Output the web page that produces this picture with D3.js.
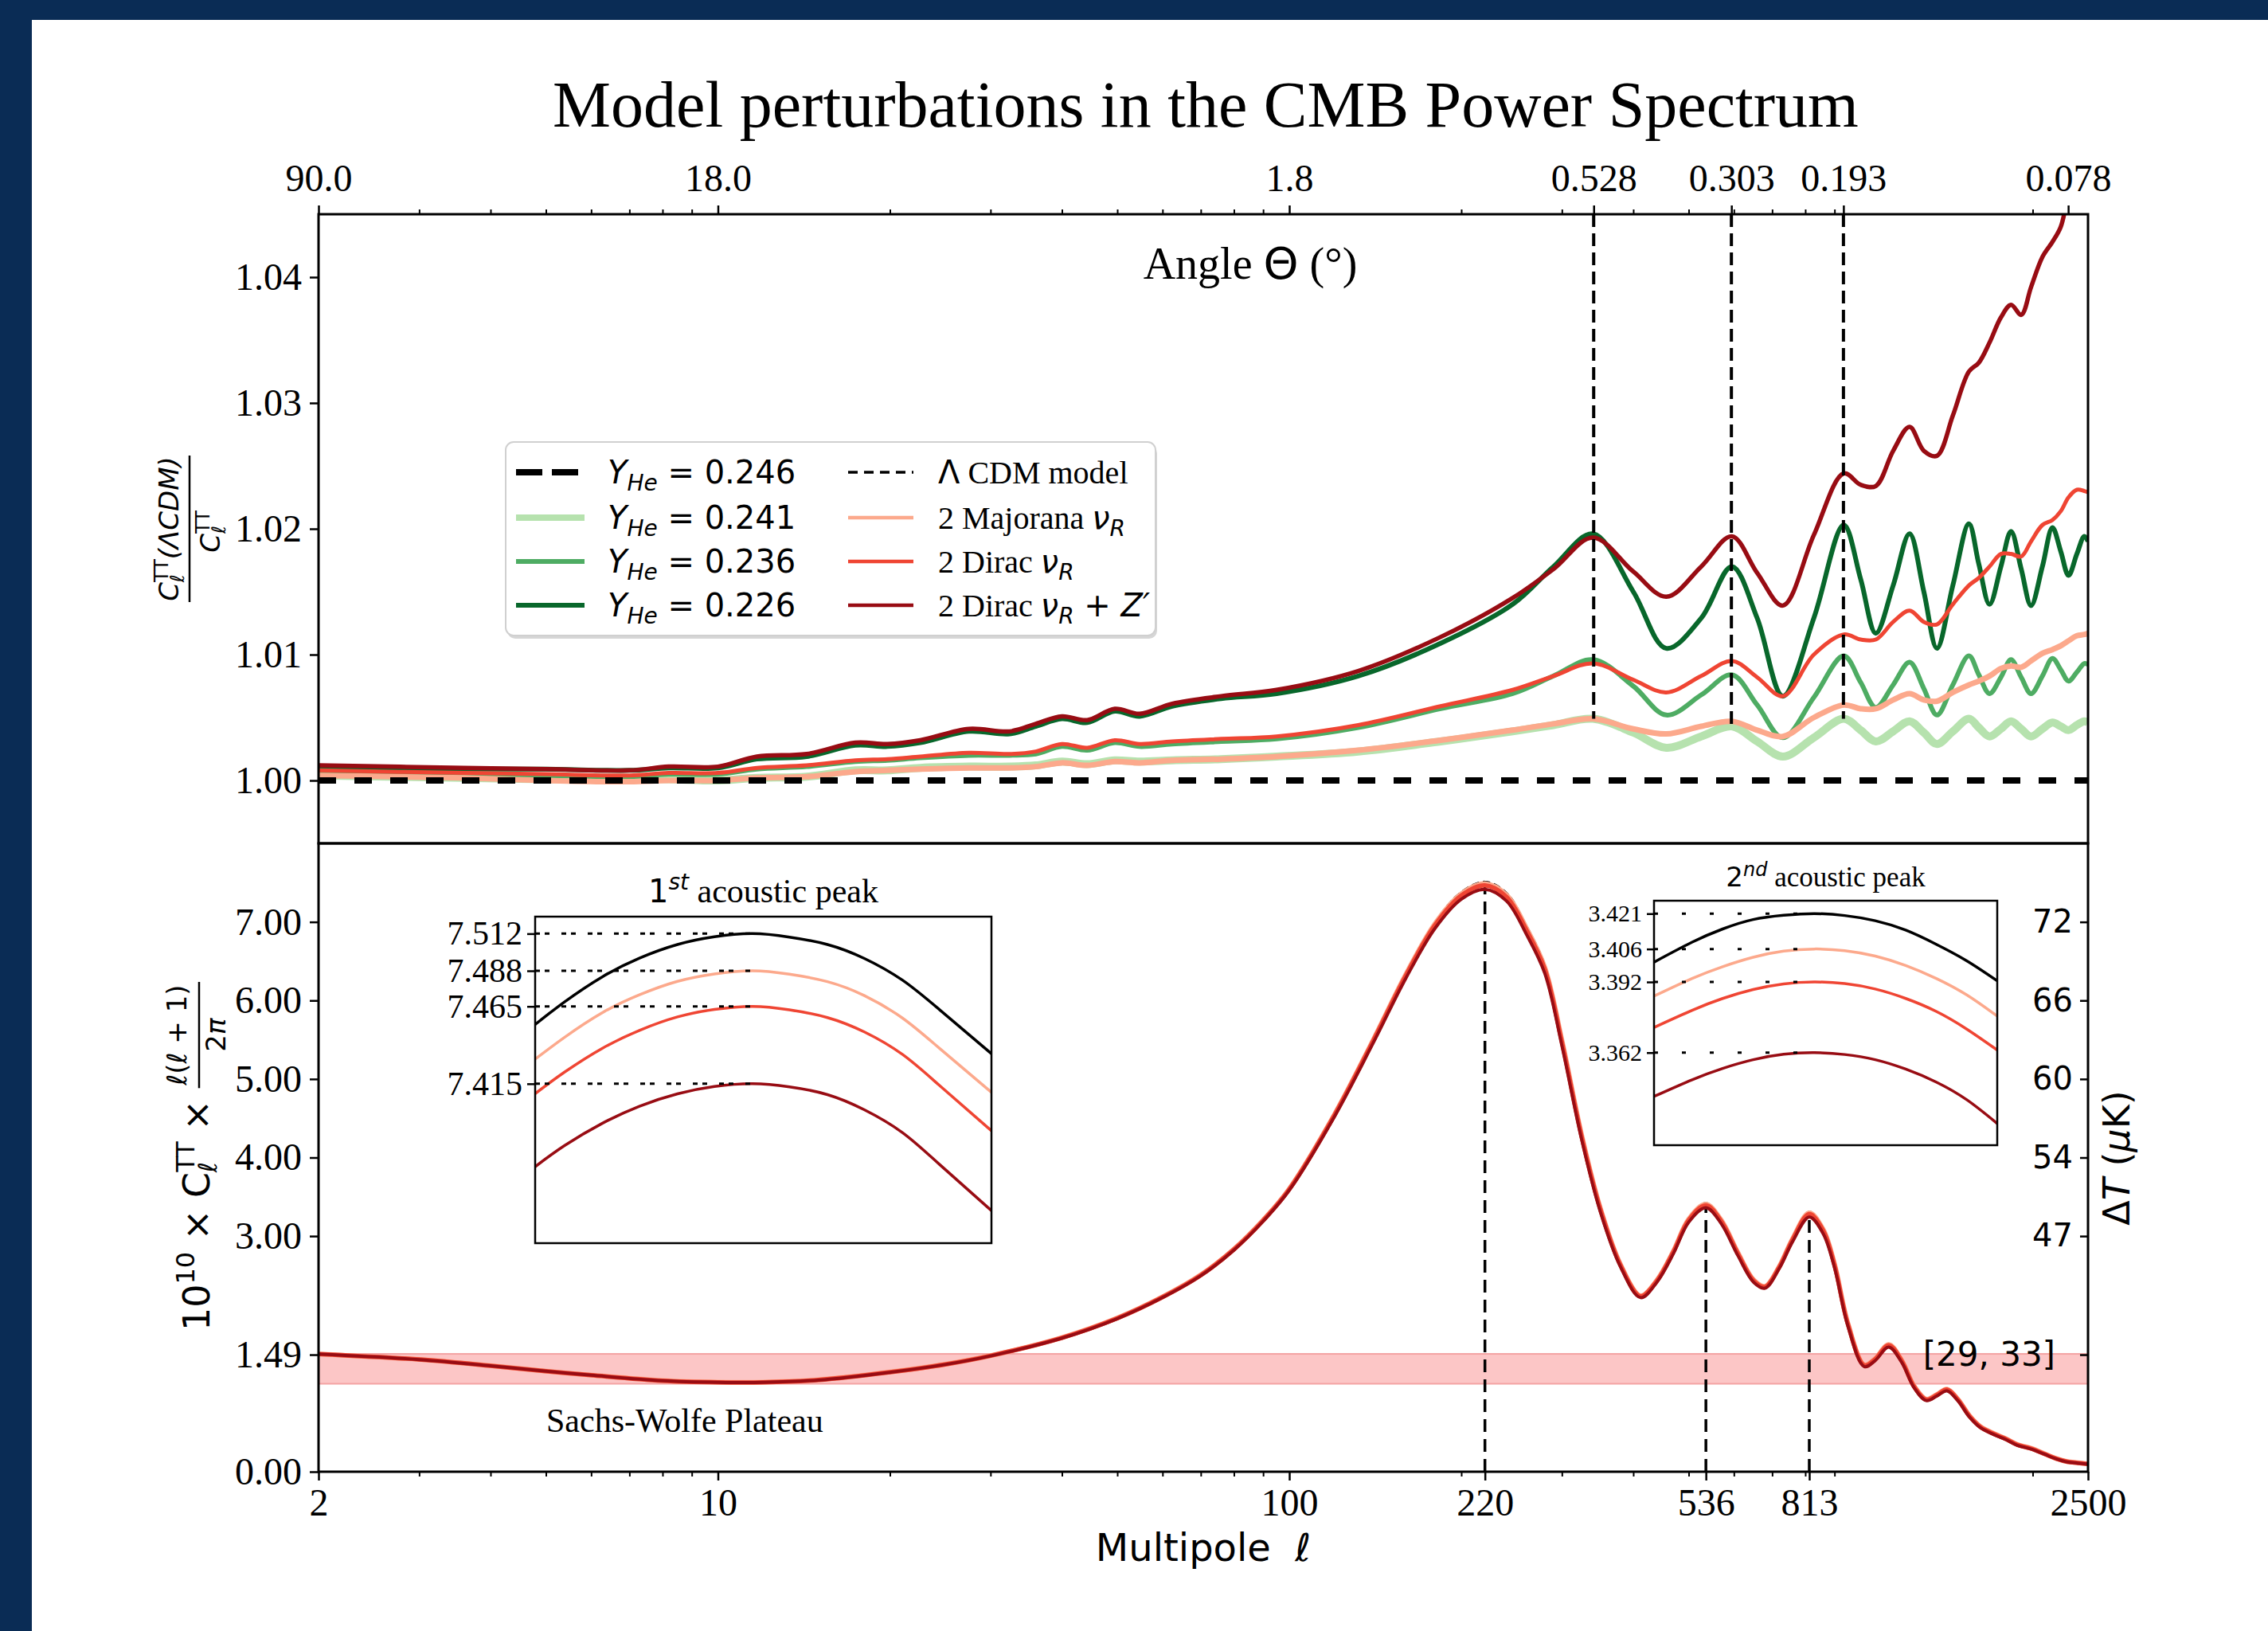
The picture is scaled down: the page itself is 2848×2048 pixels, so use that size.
<!DOCTYPE html>
<html lang="en">
<head><meta charset="utf-8">
<title>Model perturbations in the CMB Power Spectrum</title>
<style>
body { margin: 0; background: #0a2c55; }
svg { display: block; }
text { white-space: pre; }
</style>
</head>
<body>
<svg id="chart"></svg>
<script src="https://cdn.jsdelivr.net/npm/d3@7"></script>
<script>

// ---------- top panel: C_l(LCDM) / C_l(model) ----------
var ellTop = [2, 3.6, 5, 7, 8.2, 10, 11.7, 14.3, 17.4, 19.8, 22.6, 27.5, 32.4, 36, 40, 44.3, 49.5, 54.7, 62.4, 76, 95, 132, 184,
  246, 290, 340, 400, 457, 526, 595, 659, 731, 828, 934, 1000, 1063, 1140, 1218, 1290, 1360, 1450, 1547, 1610, 1681, 1760,
  1833, 1910, 1987, 2080, 2166, 2240, 2311, 2390, 2463, 2500];

var ratioY241 = [1.0004, 1.0002, 1.0001, 1.0001, 1.0001, 1.0000, 1.0002, 1.0003, 1.0008, 1.0008, 1.0010, 1.0011, 1.0011, 1.0012,
  1.0015, 1.0013, 1.0016, 1.0015, 1.0016, 1.0017, 1.0019, 1.0023, 1.0031, 1.0039, 1.0044, 1.0049, 1.0038, 1.0026, 1.0035,
  1.0043, 1.0031, 1.0019, 1.0034, 1.0049, 1.0040, 1.0031, 1.0039, 1.0047, 1.0038, 1.0029, 1.0039, 1.0049, 1.0042, 1.0035,
  1.0041, 1.0047, 1.0041, 1.0035, 1.0041, 1.0046, 1.0043, 1.0040, 1.0044, 1.0047, 1.0046];

var ratioY236 = [1.0007, 1.0005, 1.0004, 1.0003, 1.0005, 1.0005, 1.0009, 1.0011, 1.0015, 1.0016, 1.0018, 1.0020, 1.0020, 1.0021,
  1.0027, 1.0024, 1.0030, 1.0027, 1.0029, 1.0031, 1.0033, 1.0042, 1.0057, 1.0069, 1.0083, 1.0096, 1.0075, 1.0052, 1.0068,
  1.0084, 1.0060, 1.0034, 1.0066, 1.0099, 1.0078, 1.0058, 1.0076, 1.0094, 1.0073, 1.0052, 1.0076, 1.0099, 1.0084, 1.0069,
  1.0082, 1.0096, 1.0082, 1.0069, 1.0083, 1.0097, 1.0088, 1.0079, 1.0086, 1.0093, 1.0092];

var ratioY226 = [1.0011, 1.0009, 1.0009, 1.0008, 1.0010, 1.0010, 1.0017, 1.0019, 1.0028, 1.0027, 1.0030, 1.0039, 1.0037, 1.0043,
  1.0049, 1.0046, 1.0055, 1.0051, 1.0059, 1.0065, 1.0069, 1.0083, 1.0109, 1.0140, 1.0170, 1.0196, 1.0150, 1.0105, 1.0129,
  1.0170, 1.0129, 1.0067, 1.0129, 1.0203, 1.0160, 1.0117, 1.0155, 1.0196, 1.0150, 1.0105, 1.0155, 1.0204, 1.0172, 1.0140,
  1.0170, 1.0198, 1.0168, 1.0139, 1.0170, 1.0201, 1.0182, 1.0163, 1.0180, 1.0194, 1.0190];

var ratioMajorana = [1.0004, 1.0002, 1.0000, 0.9999, 1.0000, 1.0000, 1.0002, 1.0003, 1.0007, 1.0008, 1.0009, 1.0010, 1.0010, 1.0011,
  1.0014, 1.0012, 1.0015, 1.0014, 1.0016, 1.0017, 1.0019, 1.0024, 1.0032, 1.0040, 1.0045, 1.0049, 1.0041, 1.0037, 1.0043,
  1.0047, 1.0040, 1.0035, 1.0050, 1.0060, 1.0057, 1.0057, 1.0064, 1.0069, 1.0064, 1.0063, 1.0070, 1.0076, 1.0079, 1.0083,
  1.0089, 1.0091, 1.0090, 1.0095, 1.0101, 1.0104, 1.0107, 1.0111, 1.0115, 1.0116, 1.0117];

var ratioDirac = [1.0008, 1.0006, 1.0005, 1.0004, 1.0006, 1.0006, 1.0010, 1.0012, 1.0016, 1.0017, 1.0019, 1.0022, 1.0021, 1.0023,
  1.0029, 1.0026, 1.0032, 1.0029, 1.0031, 1.0033, 1.0035, 1.0044, 1.0059, 1.0072, 1.0083, 1.0093, 1.0080, 1.0070, 1.0083,
  1.0095, 1.0082, 1.0067, 1.0100, 1.0116, 1.0112, 1.0112, 1.0126, 1.0135, 1.0126, 1.0124, 1.0140, 1.0155, 1.0161, 1.0170,
  1.0180, 1.0180, 1.0178, 1.0190, 1.0203, 1.0207, 1.0214, 1.0225, 1.0231, 1.0230, 1.0229];

var ratioDiracZ = [1.0012, 1.0010, 1.0009, 1.0008, 1.0011, 1.0011, 1.0019, 1.0021, 1.0030, 1.0029, 1.0032, 1.0041, 1.0039, 1.0045,
  1.0051, 1.0048, 1.0057, 1.0053, 1.0061, 1.0067, 1.0072, 1.0087, 1.0114, 1.0145, 1.0168, 1.0193, 1.0166, 1.0146, 1.0170,
  1.0194, 1.0165, 1.0139, 1.0195, 1.0244, 1.0235, 1.0234, 1.0262, 1.0281, 1.0262, 1.0258, 1.0290, 1.0325, 1.0332, 1.0348,
  1.0368, 1.0378, 1.0370, 1.0392, 1.0416, 1.0428, 1.0440, 1.0468, 1.0500, 1.0530, 1.0550];

// ---------- bottom panel: 1e10 x C_l x l(l+1)/2pi ----------
var ellBot = [2, 3, 4, 5, 6, 8, 10, 12, 15, 20, 25, 30, 40, 50, 60, 70, 80, 90, 100, 120, 140, 160, 180, 200, 220, 240, 260,
  280, 300, 325, 350, 380, 412, 440, 470, 500, 536, 570, 610, 650, 680, 720, 760, 813, 860, 900, 950, 1015, 1060, 1120, 1180,
  1240, 1303, 1360, 1416, 1480, 1550, 1620, 1711, 1800, 1880, 1990, 2100, 2200, 2300, 2400, 2500];

var dlLcdm = [1.50, 1.43, 1.35, 1.28, 1.23, 1.16, 1.14, 1.14, 1.17, 1.27, 1.37, 1.48, 1.71, 1.96, 2.23, 2.51, 2.84, 3.21, 3.61,
  4.56, 5.50, 6.35, 7.00, 7.38, 7.512, 7.37, 6.95, 6.45, 5.52, 4.30, 3.38, 2.65, 2.25, 2.45, 2.82, 3.23, 3.421, 3.22, 2.80,
  2.45, 2.37, 2.62, 2.98, 3.31, 3.10, 2.66, 1.90, 1.37, 1.45, 1.63, 1.43, 1.10, 0.93, 0.99, 1.06, 0.93, 0.72, 0.58, 0.49,
  0.42, 0.35, 0.30, 0.23, 0.17, 0.13, 0.115, 0.10];

var dlMajorana = [1.499, 1.429, 1.35, 1.28, 1.23, 1.16, 1.14, 1.14, 1.17, 1.269, 1.369, 1.478, 1.708, 1.957, 2.226, 2.506,
  2.835, 3.204, 3.603, 4.551, 5.488, 6.335, 6.982, 7.358, 7.488, 7.343, 6.924, 6.424, 5.496, 4.281, 3.364, 2.639, 2.241,
  2.441, 2.808, 3.216, 3.406, 3.206, 2.789, 2.441, 2.361, 2.611, 2.967, 3.295, 3.085, 2.646, 1.889, 1.362, 1.442, 1.620,
  1.421, 1.093, 0.924, 0.984, 1.053, 0.924, 0.715, 0.576, 0.486, 0.417, 0.347, 0.297, 0.228, 0.168, 0.129, 0.114, 0.099];

var dlDirac = [1.499, 1.429, 1.349, 1.279, 1.229, 1.159, 1.139, 1.139, 1.169, 1.268, 1.367, 1.477, 1.705, 1.954, 2.223, 2.502,
  2.830, 3.199, 3.597, 4.542, 5.475, 6.318, 6.962, 7.336, 7.465, 7.318, 6.898, 6.400, 5.474, 4.263, 3.352, 2.629, 2.234,
  2.432, 2.798, 3.203, 3.392, 3.191, 2.776, 2.431, 2.353, 2.603, 2.955, 3.279, 3.070, 2.633, 1.879, 1.355, 1.434, 1.610,
  1.412, 1.086, 0.918, 0.978, 1.046, 0.917, 0.709, 0.571, 0.482, 0.413, 0.344, 0.294, 0.225, 0.166, 0.127, 0.112, 0.098];

var dlDiracZ = [1.498, 1.428, 1.349, 1.279, 1.229, 1.159, 1.139, 1.138, 1.167, 1.266, 1.365, 1.474, 1.701, 1.949, 2.217, 2.495,
  2.822, 3.189, 3.584, 4.523, 5.448, 6.284, 6.920, 7.289, 7.415, 7.266, 6.843, 6.346, 5.426, 4.224, 3.317, 2.607, 2.217,
  2.414, 2.774, 3.176, 3.362, 3.160, 2.749, 2.411, 2.337, 2.585, 2.929, 3.243, 3.030, 2.598, 1.855, 1.338, 1.414, 1.588,
  1.392, 1.071, 0.906, 0.965, 1.030, 0.903, 0.697, 0.561, 0.473, 0.405, 0.337, 0.288, 0.221, 0.163, 0.124, 0.110, 0.095];

// ---------- insets ----------
var ellPeak1 = [200, 202.7, 206.2, 209.6, 213.1, 216.5, 220, 223.4, 226.9, 230.3, 233.8, 237.2, 242];
var peak1Lcdm = [7.4533, 7.4679, 7.4842, 7.4962, 7.5050, 7.5100, 7.5120, 7.5098, 7.5050, 7.4960, 7.4820, 7.4630, 7.4344];
var peak1Majorana = [7.4309, 7.4450, 7.4610, 7.4725, 7.4812, 7.4860, 7.4880, 7.4858, 7.4810, 7.4720, 7.4575, 7.4380, 7.4095];
var peak1Dirac = [7.4086, 7.4225, 7.4380, 7.4495, 7.4582, 7.4630, 7.4650, 7.4628, 7.4578, 7.4485, 7.4340, 7.4140, 7.3846];
var peak1DiracZ = [7.3614, 7.3750, 7.3895, 7.4005, 7.4085, 7.4132, 7.4150, 7.4130, 7.4080, 7.3982, 7.3835, 7.3630, 7.3330];
var peak1Ticks = [7.512, 7.488, 7.465, 7.415];

var ellPeak2 = [515, 520, 524, 528, 532, 536, 540, 544, 548, 552, 556, 560];
var peak2Lcdm = [3.4004, 3.4089, 3.4145, 3.4185, 3.4203, 3.4210, 3.4202, 3.4180, 3.4140, 3.4080, 3.4010, 3.3925];
var peak2Majorana = [3.3860, 3.3935, 3.3985, 3.4025, 3.4051, 3.4060, 3.4053, 3.4030, 3.3990, 3.3935, 3.3865, 3.3775];
var peak2Dirac = [3.3727, 3.3800, 3.3850, 3.3888, 3.3912, 3.3920, 3.3913, 3.3890, 3.3850, 3.3795, 3.3720, 3.3631];
var peak2DiracZ = [3.3434, 3.3505, 3.3553, 3.3590, 3.3613, 3.3620, 3.3612, 3.3590, 3.3550, 3.3495, 3.3420, 3.3319];
var peak2Ticks = [3.421, 3.406, 3.392, 3.362];

// ---------- ticks and markers ----------
var ellTicks = [2, 10, 100, 220, 536, 813, 2500];
var ellMinor = [3, 4, 5, 6, 7, 8, 9, 20, 30, 40, 50, 60, 70, 80, 90, 200, 300, 400, 500, 600, 700, 800, 900, 2000];
var angleTicks = [2, 10, 100, 341, 594, 933, 2308];
var angleLabels = ["90.0", "18.0", "1.8", "0.528", "0.303", "0.193", "0.078"];
var ratioTicks = [1.00, 1.01, 1.02, 1.03, 1.04];
var dlTicks = [0, 1.49, 3, 4, 5, 6, 7];
var dTTicks = [7, 6, 5, 4, 3, 1.49];
var dTLabels = ["72", "66", "60", "54", "47", "[29, 33]"];
var topMarkers = [341, 594, 933];
var topMarkerEnds = [1.0049, 1.0044, 1.0049];
var botMarkers = [220, 536, 813];
var botMarkerEnds = [7.512, 3.421, 3.31];
var swBand = [1.12, 1.50];

var width = 2848, height = 2048;
var SERIF = '"Liberation Serif", "Times New Roman", serif';
var SANS = '"DejaVu Sans", Verdana, sans-serif';
var L = 400, R = 2622, T1 = 269, B1 = 1059, B2 = 1848;

var cLight = "#b6e2ae", cMid = "#4eac63", cDark = "#08672b";
var cSalmon = "#fca98c", cRed = "#ef4533", cDarkRed = "#980c13";

var svg = d3.select("#chart").attr("width", width).attr("height", height);
svg.append("rect").attr("width", width).attr("height", height).attr("fill", "#0a2c55");
svg.append("rect").attr("x", 40).attr("y", 25).attr("width", width - 40).attr("height", height - 25).attr("fill", "#fff");

var x = d3.scaleLog().domain([2, 2500]).range([L, R]);
var yTop = d3.scaleLinear().domain([0.995, 1.045]).range([B1, T1]);
var yBot = d3.scaleLinear().domain([0, 8]).range([B2, B1]);

var defs = svg.append("defs");
defs.append("clipPath").attr("id", "clipTop").append("rect")
    .attr("x", L).attr("y", T1).attr("width", R - L).attr("height", B1 - T1);
defs.append("clipPath").attr("id", "clipBot").append("rect")
    .attr("x", L).attr("y", B1).attr("width", R - L).attr("height", B2 - B1);

function rich(textSel, segs) {
  var shift = 0;
  segs.forEach(function(s) {
    var ts = textSel.append("tspan").text(s.t);
    if (s.f) ts.style("font-family", s.f);
    if (s.i) ts.style("font-style", "italic");
    if (s.s) ts.style("font-size", s.s + "px");
    var want = s.dy || 0;
    if (want !== shift) { ts.attr("dy", want - shift); shift = want; }
    if (s.dx) ts.attr("dx", s.dx);
  });
  return textSel;
}

function styleAxis(g, family, size) {
  g.select(".domain").remove();
  g.selectAll(".tick line").attr("stroke", "#000").attr("stroke-width", 2.5);
  g.selectAll(".tick text").style("font-family", family).style("font-size", size + "px").attr("fill", "#000");
}

// ---------- top panel ----------
var lineTop = d3.line().x(function(d) { return x(d[0]); }).y(function(d) { return yTop(d[1]); })
    .curve(d3.curveCatmullRom.alpha(0.5));
var gTop = svg.append("g").attr("clip-path", "url(#clipTop)");

var topSeries = [
  { vals: ratioY241, color: cLight, w: 10 },
  { vals: ratioY236, color: cMid, w: 6 },
  { vals: ratioY226, color: cDark, w: 6 },
  { vals: ratioMajorana, color: cSalmon, w: 7 },
  { vals: ratioDirac, color: cRed, w: 5 },
  { vals: ratioDiracZ, color: cDarkRed, w: 5.5 }
];
topSeries.forEach(function(s) {
  gTop.append("path")
      .datum(ellTop.map(function(l, i) { return [l, s.vals[i]]; }))
      .attr("d", lineTop)
      .attr("fill", "none")
      .attr("stroke", s.color)
      .attr("stroke-width", s.w)
      .attr("stroke-linejoin", "round");
});

topMarkers.forEach(function(l, i) {
  gTop.append("line")
      .attr("x1", x(l)).attr("x2", x(l))
      .attr("y1", T1).attr("y2", yTop(topMarkerEnds[i]))
      .attr("stroke", "#000").attr("stroke-width", 4).attr("stroke-dasharray", "16,8");
});

gTop.append("line")
    .attr("x1", x(2)).attr("x2", x(2500))
    .attr("y1", yTop(1)).attr("y2", yTop(1))
    .attr("stroke", "#000").attr("stroke-width", 8).attr("stroke-dasharray", "22,23");

// ---------- bottom panel ----------
var lineBot = d3.line().x(function(d) { return x(d[0]); }).y(function(d) { return yBot(d[1]); })
    .curve(d3.curveCatmullRom.alpha(0.5));
var gBot = svg.append("g").attr("clip-path", "url(#clipBot)");

gBot.append("rect")
    .attr("x", L).attr("width", R - L)
    .attr("y", yBot(swBand[1])).attr("height", yBot(swBand[0]) - yBot(swBand[1]))
    .attr("fill", "#fcc6c6").attr("stroke", "#f4a3a3").attr("stroke-width", 2);

botMarkers.forEach(function(l, i) {
  gBot.append("line")
      .attr("x1", x(l)).attr("x2", x(l))
      .attr("y1", B2).attr("y2", yBot(botMarkerEnds[i]))
      .attr("stroke", "#000").attr("stroke-width", 3.5).attr("stroke-dasharray", "16,9");
});

var botSeries = [
  { vals: dlLcdm, color: "#000", w: 2.5, dash: "9,5" },
  { vals: dlMajorana, color: cSalmon, w: 6 },
  { vals: dlDirac, color: cRed, w: 5.5 },
  { vals: dlDiracZ, color: cDarkRed, w: 4 }
];
botSeries.forEach(function(s) {
  gBot.append("path")
      .datum(ellBot.map(function(l, i) { return [l, s.vals[i]]; }))
      .attr("d", lineBot)
      .attr("fill", "none")
      .attr("stroke", s.color)
      .attr("stroke-width", s.w)
      .attr("stroke-dasharray", s.dash || null);
});

svg.append("text")
    .attr("x", 686).attr("y", 1798)
    .style("font-family", SERIF).style("font-size", "42px")
    .text("Sachs-Wolfe Plateau");

// ---------- insets ----------
function drawInset(o) {
  var xs = d3.scaleLinear().domain(o.xDom).range([o.x0, o.x1]);
  var ys = d3.scaleLinear().domain(o.yDom).range([o.y1, o.y0]);
  var g = svg.append("g");
  g.append("rect").attr("x", o.x0).attr("y", o.y0).attr("width", o.x1 - o.x0).attr("height", o.y1 - o.y0)
      .attr("fill", "#fff");
  var id = "clip" + o.id;
  defs.append("clipPath").attr("id", id).append("rect")
      .attr("x", o.x0).attr("y", o.y0).attr("width", o.x1 - o.x0).attr("height", o.y1 - o.y0);
  var gc = g.append("g").attr("clip-path", "url(#" + id + ")");
  var ln = d3.line().x(function(d) { return xs(d[0]); }).y(function(d) { return ys(d[1]); })
      .curve(d3.curveNatural);
  o.series.forEach(function(s, k) {
    gc.append("path")
        .datum(o.ell.map(function(l, i) { return [l, s[i]]; }))
        .attr("d", ln).attr("fill", "none")
        .attr("stroke", o.colors[k]).attr("stroke-width", 3.5);
  });
  o.ticks.forEach(function(v) {
    gc.append("line")
        .attr("x1", o.x0).attr("x2", xs(o.peak))
        .attr("y1", ys(v)).attr("y2", ys(v))
        .attr("stroke", "#000").attr("stroke-width", 3).attr("stroke-dasharray", o.dots);
  });
  g.append("rect").attr("x", o.x0).attr("y", o.y0).attr("width", o.x1 - o.x0).attr("height", o.y1 - o.y0)
      .attr("fill", "none").attr("stroke", "#000").attr("stroke-width", 2.5);
  var ax = g.append("g").attr("transform", "translate(" + o.x0 + ",0)")
      .call(d3.axisLeft(ys).tickValues(o.ticks).tickFormat(d3.format(".3f")).tickSize(o.tickLen).tickPadding(6));
  styleAxis(ax, SERIF, o.fs);
  rich(g.append("text").attr("x", (o.x0 + o.x1) / 2).attr("y", o.titleY).attr("text-anchor", "middle")
      .style("font-family", SERIF), o.title);
}

drawInset({
  id: "P1", x0: 672, x1: 1245, y0: 1151, y1: 1561,
  xDom: [200, 242], yDom: [7.312, 7.523], peak: 220,
  ell: ellPeak1, series: [peak1Lcdm, peak1Majorana, peak1Dirac, peak1DiracZ],
  colors: ["#000", cSalmon, cRed, cDarkRed],
  ticks: peak1Ticks, fs: 42, tickLen: 10, dots: "6,6,6,15",
  titleY: 1133,
  title: [{ t: "1", f: SANS, s: 40 }, { t: "st", f: SANS, i: 1, s: 28, dy: -16 }, { t: " acoustic peak", f: SERIF, s: 42 }]
});

drawInset({
  id: "P2", x0: 2077, x1: 2508, y0: 1131, y1: 1438,
  xDom: [515, 560], yDom: [3.3227, 3.4265], peak: 536,
  ell: ellPeak2, series: [peak2Lcdm, peak2Majorana, peak2Dirac, peak2DiracZ],
  colors: ["#000", cSalmon, cRed, cDarkRed],
  ticks: peak2Ticks, fs: 30, tickLen: 9, dots: "5,30",
  titleY: 1113,
  title: [{ t: "2", f: SANS, s: 34 }, { t: "nd", f: SANS, i: 1, s: 24, dy: -13 }, { t: " acoustic peak", f: SERIF, s: 35 }]
});

// ---------- frames ----------
svg.append("rect").attr("x", L).attr("y", T1).attr("width", R - L).attr("height", B1 - T1)
    .attr("fill", "none").attr("stroke", "#000").attr("stroke-width", 3);
svg.append("rect").attr("x", L).attr("y", B1).attr("width", R - L).attr("height", B2 - B1)
    .attr("fill", "none").attr("stroke", "#000").attr("stroke-width", 3);

// ---------- axes ----------
var axBottom = svg.append("g").attr("transform", "translate(0," + B2 + ")")
    .call(d3.axisBottom(x).tickValues(ellTicks).tickFormat(d3.format("d")).tickSize(11).tickPadding(10));
styleAxis(axBottom, SERIF, 48);
var axBottomMinor = svg.append("g").attr("transform", "translate(0," + B2 + ")")
    .call(d3.axisBottom(x).tickValues(ellMinor).tickFormat("").tickSize(6));
styleAxis(axBottomMinor, SERIF, 48);
axBottomMinor.selectAll(".tick line").attr("stroke-width", 2);

var axAngle = svg.append("g").attr("transform", "translate(0," + T1 + ")")
    .call(d3.axisTop(x).tickValues(angleTicks).tickFormat(function(d, i) { return angleLabels[i]; })
      .tickSize(11).tickPadding(18));
styleAxis(axAngle, SERIF, 48);
var axAngleMinor = svg.append("g").attr("transform", "translate(0," + T1 + ")")
    .call(d3.axisTop(x).tickValues(ellMinor).tickFormat("").tickSize(6));
styleAxis(axAngleMinor, SERIF, 48);
axAngleMinor.selectAll(".tick line").attr("stroke-width", 2);

var axRatio = svg.append("g").attr("transform", "translate(" + L + ",0)")
    .call(d3.axisLeft(yTop).tickValues(ratioTicks).tickFormat(d3.format(".2f")).tickSize(11).tickPadding(10));
styleAxis(axRatio, SERIF, 48);

var axDl = svg.append("g").attr("transform", "translate(" + L + ",0)")
    .call(d3.axisLeft(yBot).tickValues(dlTicks).tickFormat(d3.format(".2f")).tickSize(11).tickPadding(10));
styleAxis(axDl, SERIF, 48);

var axDT = svg.append("g").attr("transform", "translate(" + R + ",0)")
    .call(d3.axisLeft(yBot).tickValues(dTTicks).tickFormat(function(d, i) { return dTLabels[i]; })
      .tickSize(10).tickPadding(9));
styleAxis(axDT, SANS, 40);
axDT.selectAll(".tick text").filter(function(d) { return d === 1.49; })
    .attr("dx", -22).style("font-size", "42px");

// ---------- titles and labels ----------
svg.append("text").attr("x", 1514).attr("y", 159).attr("text-anchor", "middle")
    .style("font-family", SERIF).style("font-size", "82px")
    .text("Model perturbations in the CMB Power Spectrum");

rich(svg.append("text").attr("x", 1570).attr("y", 350).attr("text-anchor", "middle")
    .style("font-family", SERIF).style("font-size", "56px"),
  [{ t: "Angle " }, { t: "\u0398", f: SANS }, { t: " (\u00b0)" }]);

rich(svg.append("text").attr("x", 1511).attr("y", 1960).attr("text-anchor", "middle")
    .style("font-family", SANS).style("font-size", "48px"),
  [{ t: "Multipole  " }, { t: "\u2113", i: 1 }]);

var gR = svg.append("g").attr("transform", "translate(2674,1454) rotate(-90)");
rich(gR.append("text").attr("text-anchor", "middle").style("font-family", SANS).style("font-size", "46px"),
  [{ t: "\u0394" }, { t: "T", i: 1 }, { t: " (" }, { t: "\u00b5", i: 1 }, { t: "K)" }]);

// top-panel y label: fraction
var gF = svg.append("g").attr("transform", "translate(238,664) rotate(-90)");
gF.append("line").attr("x1", -92).attr("x2", 92).attr("y1", 0).attr("y2", 0)
    .attr("stroke", "#000").attr("stroke-width", 2.5);
rich(gF.append("text").attr("y", -14).attr("text-anchor", "middle").style("font-family", SANS).style("font-size", "34px"),
  [{ t: "C", i: 1 }, { t: "TT", s: 24, dy: -13 }, { t: "\u2113", s: 24, dy: 7, dx: -29, i: 1 },
   { t: "(\u039bCDM)", i: 1, dx: 19 }]);
rich(gF.append("text").attr("y", 38).attr("text-anchor", "middle").style("font-family", SANS).style("font-size", "34px"),
  [{ t: "C", i: 1 }, { t: "TT", s: 24, dy: -13 }, { t: "\u2113", s: 24, dy: 7, dx: -29, i: 1 }, { t: "\u2009", dx: 19 }]);

// bottom-panel y label
var gD = svg.append("g").attr("transform", "translate(263,1452) rotate(-90)");
var mainLbl = rich(gD.append("text").attr("x", 0).attr("y", 0).style("font-family", SANS).style("font-size", "46px"),
  [{ t: "10" }, { t: "10", s: 32, dy: -19 }, { t: " \u00d7 C", s: 46 }, { t: "TT", s: 32, dy: -19 },
   { t: "\u2113", s: 32, dy: 9, dx: -39, i: 1 }, { t: " \u00d7 ", s: 46, dx: 25 }]);
var num = gD.append("text").attr("y", -29).attr("text-anchor", "middle")
    .style("font-family", SANS).style("font-size", "34px");
rich(num, [{ t: "\u2113", i: 1 }, { t: "(" }, { t: "\u2113", i: 1 }, { t: " + 1)" }]);
var den = gD.append("text").attr("y", 20).attr("text-anchor", "middle")
    .style("font-family", SANS).style("font-size", "34px");
rich(den, [{ t: "2" }, { t: "\u03c0", i: 1 }]);
var mb = mainLbl.node().getBBox();
var fracW = Math.max(num.node().getBBox().width, den.node().getBBox().width) + 6;
var total = mb.width + fracW;
var start = -total / 2;
mainLbl.attr("x", start - mb.x);
var fc = start + mb.width + fracW / 2;
num.attr("x", fc);
den.attr("x", fc);
gD.append("line").attr("x1", fc - fracW / 2).attr("x2", fc + fracW / 2).attr("y1", -13).attr("y2", -13)
    .attr("stroke", "#000").attr("stroke-width", 2.5);

// ---------- legend ----------
var legendCol1 = [
  { seg: [{ t: "Y", i: 1 }, { t: "He", i: 1, s: 28, dy: 9 }, { t: " = 0.246" }], color: "#000", w: 8, dash: "33,12" },
  { seg: [{ t: "Y", i: 1 }, { t: "He", i: 1, s: 28, dy: 9 }, { t: " = 0.241" }], color: cLight, w: 8 },
  { seg: [{ t: "Y", i: 1 }, { t: "He", i: 1, s: 28, dy: 9 }, { t: " = 0.236" }], color: cMid, w: 6 },
  { seg: [{ t: "Y", i: 1 }, { t: "He", i: 1, s: 28, dy: 9 }, { t: " = 0.226" }], color: cDark, w: 6 }
];
var legendCol2 = [
  { seg: [{ t: "\u039b", f: SANS }, { t: " CDM model", f: SERIF }], color: "#000", w: 3.5, dash: "12,8" },
  { seg: [{ t: "2 Majorana ", f: SERIF }, { t: "\u03bd", f: SANS, i: 1 }, { t: "R", f: SANS, i: 1, s: 28, dy: 9 }], color: cSalmon, w: 4.5 },
  { seg: [{ t: "2 Dirac ", f: SERIF }, { t: "\u03bd", f: SANS, i: 1 }, { t: "R", f: SANS, i: 1, s: 28, dy: 9 }], color: cRed, w: 4.5 },
  { seg: [{ t: "2 Dirac ", f: SERIF }, { t: "\u03bd", f: SANS, i: 1 }, { t: "R", f: SANS, i: 1, s: 28, dy: 9 },
          { t: " + ", f: SANS }, { t: "Z\u2032", f: SANS, i: 1 }], color: cDarkRed, w: 4.5 }
];
var rowsY = [593, 650, 705, 760];
var gLeg = svg.append("g");
gLeg.append("rect").attr("x", 637).attr("y", 559).attr("width", 816).attr("height", 243).attr("rx", 10)
    .attr("fill", "#d6d6d6");
gLeg.append("rect").attr("x", 635).attr("y", 555).attr("width", 816).attr("height", 243).attr("rx", 10)
    .attr("fill", "#fff").attr("stroke", "#d0d0d0").attr("stroke-width", 2);
[[legendCol1, 648, 734, 763], [legendCol2, 1065, 1147, 1178]].forEach(function(col) {
  col[0].forEach(function(e, i) {
    gLeg.append("line").attr("x1", col[1]).attr("x2", col[2]).attr("y1", rowsY[i]).attr("y2", rowsY[i])
        .attr("stroke", e.color).attr("stroke-width", e.w).attr("stroke-dasharray", e.dash || null);
    rich(gLeg.append("text").attr("x", col[3]).attr("y", rowsY[i] + 14)
        .style("font-family", SANS).style("font-size", "40px"), e.seg);
  });
});

</script>
</body>
</html>
